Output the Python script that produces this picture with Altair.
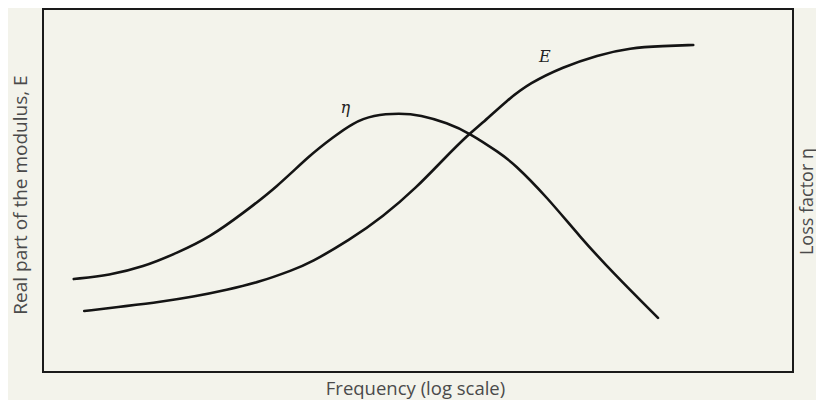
import altair as alt
import pandas as pd

# Frequency axis (log scale, arbitrary units 0-100) and curve values (arbitrary units 0-100)
freq_eta = [4.1, 8.9, 13.3, 17.9, 22.3, 26.7, 31.2, 35.6, 38.7, 41.3, 44.0, 47.6, 50.3, 53.9, 56.9, 60.9, 62.7, 67.2, 71.6, 76.0, 82.0]
eta_vals = [25.6, 26.7, 28.9, 32.8, 37.2, 43.8, 51.0, 59.8, 64.7, 68.6, 70.8, 71.3, 70.8, 68.6, 65.8, 60.3, 57.6, 48.2, 37.2, 27.3, 14.9]

freq_E = [5.5, 11.2, 15.6, 20.0, 24.5, 28.9, 33.3, 35.6, 40.9, 45.3, 49.9, 53.3, 56.9, 58.3, 61.9, 64.9, 69.3, 73.9, 78.3, 82.7, 86.7]
E_vals = [16.8, 18.2, 19.3, 20.7, 22.6, 24.8, 28.1, 30.0, 36.4, 42.7, 51.0, 58.4, 65.8, 68.0, 74.9, 79.6, 84.0, 87.3, 89.3, 89.8, 90.1]

label_text = ["η", "E"]
label_f = [40.3, 66.9]
label_v = [72.7, 86.8]

eta_df = pd.DataFrame({"f": freq_eta, "v": eta_vals})
E_df = pd.DataFrame({"f": freq_E, "v": E_vals})
lab_df = pd.DataFrame({"f": label_f, "v": label_v, "t": label_text})

xs = alt.Scale(domain=[0, 100], nice=False, zero=False)
ys = alt.Scale(domain=[0, 100], nice=False, zero=False)

common = dict(ticks=False, labels=False, domain=False, grid=False,
              titleFont="Open Sans", titleFontWeight="normal",
              titleColor="#4a4a4a")

x_axis = alt.Axis(title="Frequency (log scale)", titlePadding=7, titleX=372,
                  titleFontSize=18.5, **common)

line_style = dict(color="#141414", strokeWidth=2.6, interpolate="basis", strokeCap="round")

E_line = alt.Chart(E_df).mark_line(**line_style).encode(
    x=alt.X("f:Q", scale=xs, axis=x_axis),
    y=alt.Y("v:Q", scale=ys,
            axis=alt.Axis(title="Real part of the modulus, E", orient="left",
                          titlePadding=13, titleY=185.5, titleFontSize=19, **common)),
)

eta_line = alt.Chart(eta_df).mark_line(**line_style).encode(
    x=alt.X("f:Q", scale=xs, axis=x_axis),
    y=alt.Y("v:Q", scale=ys,
            axis=alt.Axis(title="Loss factor η", orient="right", titleAngle=270,
                          titleBaseline="top", titlePadding=5, titleY=192,
                          titleFontSize=18, **common)),
)

labels = alt.Chart(lab_df).mark_text(font="DejaVu Serif", fontStyle="italic", fontSize=16,
                                     color="#222222", baseline="middle", align="center").encode(
    x=alt.X("f:Q", scale=xs, axis=x_axis),
    y=alt.Y("v:Q", scale=ys, axis=None),
    text="t:N",
)

chart = alt.layer(E_line, eta_line, labels).resolve_scale(y="independent").properties(
    width=750, height=363,
    autosize=alt.AutoSizeParams(type="none"),
    padding={"left": 35, "top": 1, "right": 23, "bottom": 28},
    background="#f3f3eb",
).configure_view(stroke="#1a1a1a", strokeWidth=2)

chart.save("out.html", embed_options={"renderer": "svg", "actions": False})
